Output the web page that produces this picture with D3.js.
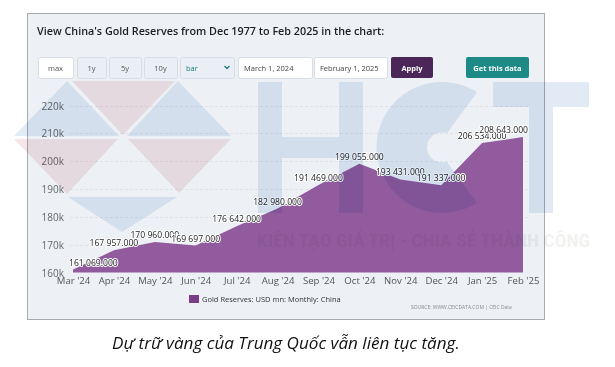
<!DOCTYPE html>
<html><head><meta charset="utf-8">
<script src="https://cdn.jsdelivr.net/npm/d3@7"></script>
<style>body{margin:0;background:#fff}svg{display:block}.wm{mix-blend-mode:multiply}</style>
</head><body>
<script>
const categories = ["Mar '24","Apr '24","May '24","Jun '24","Jul '24","Aug '24","Sep '24","Oct '24","Nov '24","Dec '24","Jan '25","Feb '25"];
const values = [161069,167957,170960,169697,176642,182980,191469,199055,193431,191337,206534,208643];
const yTicks = [160000,170000,180000,190000,200000,210000,220000];
const seriesName = "Gold Reserves: USD mn: Monthly: China";
const titleText = "View China's Gold Reserves from Dec 1977 to Feb 2025 in the chart:";
const buttonLabels = ["max","1y","5y","10y"];
const dateFrom = "March 1, 2024", dateTo = "February 1, 2025";
const captionText = "Dự trữ vàng của Trung Quốc vẫn liên tục tăng.";
const sourceText = "SOURCE: WWW.CEICDATA.COM | CEIC Data";
const wmText = "KIÊN TẠO GIÁ TRỊ - CHIA SẺ THÀNH CÔNG";

const W=615,H=367;
const svg=d3.select("body").append("svg").attr("width",W).attr("height",H);
const F="'Open Sans', sans-serif";

function fit(sel,w){const n=sel.node();const l=n.getComputedTextLength();const fs=parseFloat(sel.attr("font-size"));sel.attr("font-size",fs*w/l);}

// panel
svg.append("rect").attr("x",27.5).attr("y",13.5).attr("width",517).attr("height",306).attr("fill","#edf1f6").attr("stroke","#a9abae");

const title=svg.append("text").attr("x",37).attr("y",35).attr("font-family",F).attr("font-weight",600).attr("font-size",13).attr("fill","#1d1d1f").text(titleText);
fit(title,348);

// controls
const ctrl=[
 {x:38,w:35,fill:"#fff",t:buttonLabels[0],c:"#555",anchor:"middle"},
 {x:77,w:29,fill:"#e9eff5",t:buttonLabels[1],c:"#555",anchor:"middle"},
 {x:109,w:32,fill:"#e9eff5",t:buttonLabels[2],c:"#555",anchor:"middle"},
 {x:144,w:33,fill:"#e9eff5",t:buttonLabels[3],c:"#555",anchor:"middle"},
 {x:180,w:54,fill:"#e9eff5",t:"bar",c:"#1c7e7c",anchor:"start"},
 {x:238,w:74,fill:"#fff",t:dateFrom,c:"#444",anchor:"start"},
 {x:314,w:73,fill:"#fff",t:dateTo,c:"#444",anchor:"start"}
];
ctrl.forEach(b=>{
 svg.append("rect").attr("x",b.x+0.5).attr("y",57.5).attr("width",b.w).attr("height",21).attr("rx",2).attr("fill",b.fill).attr("stroke","#d6dde5");
 svg.append("text").attr("x",b.anchor==="middle"?b.x+b.w/2:b.x+6).attr("y",71).attr("text-anchor",b.anchor).attr("font-family",F).attr("font-size",7.5).attr("fill",b.c).text(b.t);
});
svg.append("path").attr("d","M224.5,66 L227,68.5 L229.5,66").attr("fill","none").attr("stroke","#1c7e7c").attr("stroke-width",1.3);
svg.append("rect").attr("x",391).attr("y",57).attr("width",42).attr("height",21).attr("rx",2).attr("fill","#4a2758");
svg.append("text").attr("x",412).attr("y",71).attr("text-anchor","middle").attr("font-family",F).attr("font-weight",700).attr("font-size",7.5).attr("fill","#fff").text("Apply");
svg.append("rect").attr("x",466).attr("y",57).attr("width",63).attr("height",21).attr("rx",2).attr("fill","#1d8a86");
svg.append("text").attr("x",497.5).attr("y",71).attr("text-anchor","middle").attr("font-family",F).attr("font-weight",700).attr("font-size",7.5).attr("fill","#fff").text("Get this data");

// scales
const x=d3.scalePoint().domain(categories).range([73,523]);
const y=d3.scaleLinear().domain([160000,220000]).range([272.5,105.5]);

// grid
svg.append("g").selectAll("line").data(yTicks.slice(1)).join("line")
 .attr("x1",70).attr("x2",528).attr("y1",d=>Math.round(y(d))+0.5).attr("y2",d=>Math.round(y(d))+0.5)
 .attr("stroke","#dfe3e8").attr("stroke-dasharray","3,2");

// y axis
const ya=svg.append("g").attr("transform","translate(64,0)").call(d3.axisLeft(y).tickValues(yTicks).tickSize(0).tickPadding(0).tickFormat(d=>d/1000+"k"));
ya.select(".domain").remove();
ya.selectAll("text").attr("font-family",F).attr("font-size",10).attr("fill","#666").attr("dy","0.35em");

// x axis
const xa=svg.append("g").attr("transform","translate(0,277)").call(d3.axisBottom(x).tickSize(0).tickPadding(0));
xa.select(".domain").remove();
xa.selectAll("text").attr("font-family",F).attr("font-size",9.6).attr("fill","#555").attr("dy","0.75em");

// area
const area=d3.area().x((d,i)=>x(categories[i])).y0(y(160000)).y1(d=>y(d));
svg.append("path").datum(values).attr("d",area).attr("fill","#925b9e");

// labels
const lg=svg.append("g");
values.forEach((v,i)=>{
 const t=lg.append("text").attr("font-family",F).attr("font-size",8.6).attr("font-weight",500)
  .attr("fill","#222").attr("stroke","#fff").attr("stroke-width",2).attr("stroke-linejoin","round").attr("paint-order","stroke")
  .attr("text-anchor","middle").attr("y",y(v)-4)
  .text(d3.format(",.3f")(v).replace(/,/g," "));
 const w=t.node().getComputedTextLength();
 let cx=x(categories[i]);
 cx=Math.max(69+w/2,Math.min(528-w/2,cx));
 t.attr("x",cx);
});

// legend
svg.append("rect").attr("x",189).attr("y",295).attr("width",10).attr("height",8).attr("fill","#7a3d88");
const lt=svg.append("text").attr("x",202).attr("y",302).attr("font-family",F).attr("font-size",8.5).attr("font-weight",500).attr("fill","#333").text(seriesName);
fit(lt,139);
const st=svg.append("text").attr("x",411).attr("y",309).attr("font-family",F).attr("font-size",5).attr("fill","#888").text(sourceText);
fit(st,101);

// watermark (multiply blend)
const wm=svg.append("g");
const blue="#e3ecf6", pink="#f7e6e9", hc="#e2ebf5";
const tris=[
 {p:[[67,81],[14,136],[119,136]],c:blue},
 {p:[[72,81],[175,81],[123,135]],c:pink},
 {p:[[178,81],[127,136],[231,136]],c:blue},
 {p:[[14,139],[118,139],[67,194]],c:pink},
 {p:[[128,139],[231,139],[179,193]],c:pink},
 {p:[[68,197],[177,197],[122,232]],c:blue}
];
tris.forEach(t=>wm.append("path").attr("class","wm").attr("d","M"+t.p.join("L")+"Z").attr("fill",t.c));
wm.append("path").attr("class","wm").attr("d","M258,82h24v55h57v-55h24v131h-24v-55h-57v55h-24Z").attr("fill",hc);
const defs=svg.append("defs");
const m=defs.append("mask").attr("id","cm");
m.append("rect").attr("x",0).attr("y",0).attr("width",W).attr("height",H).attr("fill","#000");
m.append("circle").attr("cx",442).attr("cy",147.5).attr("r",65.5).attr("fill","#fff");
m.append("circle").attr("cx",442).attr("cy",147.5).attr("r",15).attr("fill","#000");
m.append("path").attr("d","M442,140 L480,88 L520,88 L520,207 L480,207 L442,155Z").attr("fill","#000");
wm.append("rect").attr("class","wm").attr("x",370).attr("y",75).attr("width",150).attr("height",150).attr("fill",hc).attr("mask","url(#cm)");
wm.append("path").attr("class","wm").attr("d","M493,82h96v25h-36v106h-24v-106h-36Z").attr("fill",hc);
const wt=svg.append("text").attr("class","wm").attr("x",257).attr("y",247).attr("font-family","'Roboto Condensed','Liberation Sans Narrow','Roboto',sans-serif").attr("font-weight",700).attr("font-size",18).attr("fill","#f3f2f1").text(wmText);
wt.attr("textLength",333).attr("lengthAdjust","spacingAndGlyphs");

// caption
const cap=svg.append("text").attr("x",112).attr("y",349).attr("font-family",F).attr("font-style","italic").attr("font-size",16.5).attr("fill","#111").text(captionText);
fit(cap,348);
</script>
</body></html>
